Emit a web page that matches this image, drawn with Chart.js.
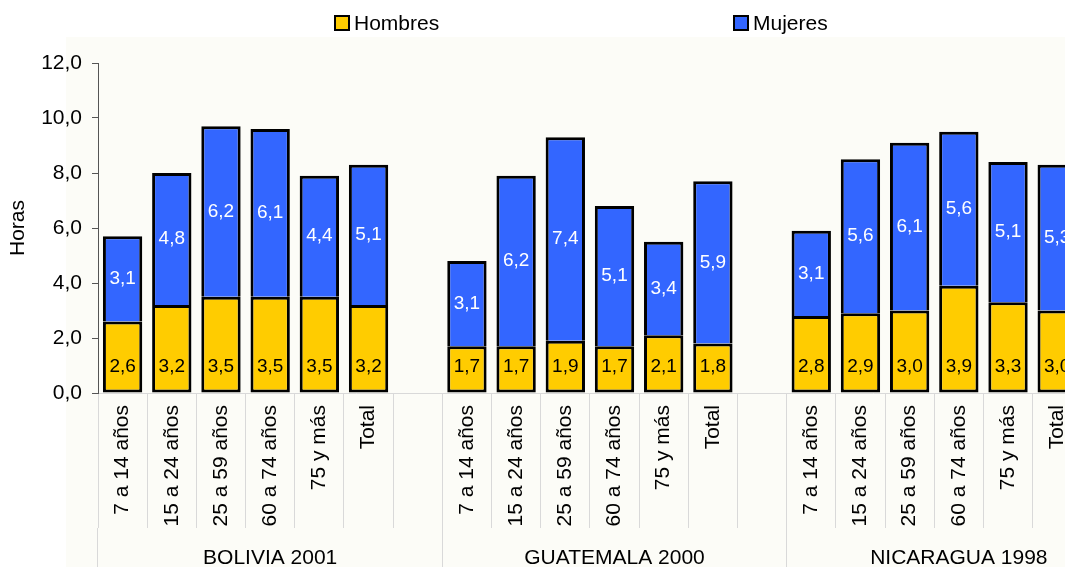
<!DOCTYPE html>
<html>
<head>
<meta charset="utf-8">
<script src="https://cdn.jsdelivr.net/npm/chart.js@4.4.0/dist/chart.umd.min.js"></script>
<style>
  html, body { margin: 0; padding: 0; background: #fff; overflow: hidden; }
  #wrap { position: relative; width: 1134px; height: 567px; }
</style>
</head>
<body>
<div id="wrap"><canvas id="horasChart"></canvas></div>
<script>
// countries (group row) and age groups (one blank slot closes each group)
const countries = ['BOLIVIA 2001', 'GUATEMALA 2000', 'NICARAGUA 1998'];
const ageGroups = ['7 a 14 años', '15 a 24 años', '25 a 59 años', '60 a 74 años', '75 y más', 'Total', ''];

// hours per day, same order as countries x ageGroups
const hombres = [
  2.6, 3.2, 3.5, 3.5, 3.5, 3.2, null,
  1.7, 1.7, 1.9, 1.7, 2.1, 1.8, null,
  2.8, 2.9, 3.0, 3.9, 3.3, 3.0, null
];
const mujeres = [
  3.1, 4.8, 6.2, 6.1, 4.4, 5.1, null,
  3.1, 6.2, 7.4, 5.1, 3.4, 5.9, null,
  3.1, 5.6, 6.1, 5.6, 5.1, 5.3, null
];
const yMin = 0, yMax = 12, yStep = 2;

const categories = countries.flatMap(() => ageGroups);
const fmt = v => v.toFixed(1).replace('.', ',');

Chart.defaults.font.family = "'Liberation Sans', Arial, sans-serif";
Chart.defaults.color = '#000';

// page + plot area background
const bgPlugin = {
  id: 'bg',
  beforeDraw(chart, args, opts) {
    const ctx = chart.ctx;
    ctx.save();
    ctx.fillStyle = '#ffffff';
    ctx.fillRect(0, 0, chart.width, chart.height);
    ctx.fillStyle = opts.color;
    ctx.fillRect(opts.left, opts.top, chart.width - opts.left, chart.height - opts.top);
    ctx.restore();
  }
};

// simple legend boxes at the top
const legendPlugin = {
  id: 'topLegend',
  afterDraw(chart, args, opts) {
    const ctx = chart.ctx;
    ctx.save();
    ctx.font = opts.size + 'px ' + Chart.defaults.font.family;
    ctx.textBaseline = 'middle';
    chart.data.datasets.forEach((ds, i) => {
      const x = opts.xs[i], y = opts.y;
      ctx.fillStyle = '#000';
      ctx.fillRect(x, y, opts.box, opts.box);
      ctx.fillStyle = ds.backgroundColor;
      ctx.fillRect(x + 2, y + 2, opts.box - 4, opts.box - 4);
      ctx.fillStyle = '#000';
      ctx.fillText(ds.label, x + opts.box + 4, y + opts.box / 2 + 1);
    });
    ctx.restore();
  }
};

// value labels inside the bars
const valuePlugin = {
  id: 'values',
  afterDatasetsDraw(chart, args, opts) {
    const ctx = chart.ctx;
    ctx.save();
    ctx.font = opts.size + 'px ' + Chart.defaults.font.family;
    ctx.textAlign = 'center';
    ctx.textBaseline = 'middle';
    chart.data.datasets.forEach((ds, i) => {
      const meta = chart.getDatasetMeta(i);
      meta.data.forEach((bar, j) => {
        const v = ds.data[j];
        if (v == null) return;
        const y = i === 0 ? bar.base - opts.baseOffset : (bar.y + bar.base) / 2;
        ctx.fillStyle = i === 0 ? '#000' : '#fff';
        ctx.fillText(fmt(v), bar.x, y);
      });
    });
    ctx.restore();
  }
};

new Chart(document.getElementById('horasChart'), {
  type: 'bar',
  data: {
    labels: categories,
    datasets: [
      {
        label: 'Hombres',
        data: hombres,
        backgroundColor: '#FFCC00',
        borderColor: '#000',
        borderWidth: 3,
        borderSkipped: false,
        barPercentage: 0.8,
        categoryPercentage: 1
      },
      {
        label: 'Mujeres',
        data: mujeres,
        backgroundColor: '#3366FF',
        borderColor: '#000',
        borderWidth: 3,
        borderSkipped: 'start',
        barPercentage: 0.8,
        categoryPercentage: 1
      }
    ]
  },
  options: {
    responsive: true,
    maintainAspectRatio: false,
    animation: false,
    layout: { padding: { top: 63, right: 3, left: 0, bottom: 0 } },
    scales: {
      x: {
        stacked: true,
        offset: true,
        weight: 0,
        grid: {
          offset: true,
          drawOnChartArea: false,
          tickLength: 135,
          color: '#d9d9d9'
        },
        border: { color: '#d9d9d9' },
        ticks: {
          autoSkip: false,
          minRotation: 90,
          maxRotation: 90,
          padding: -123,
          font: { size: 21 }
        },
        afterFit(scale) { scale.height = 135; }
      },
      x2: {
        type: 'category',
        labels: countries,
        position: 'bottom',
        offset: true,
        weight: 1,
        grid: {
          offset: true,
          drawOnChartArea: false,
          tickLength: 39,
          color: '#d9d9d9'
        },
        border: { display: false },
        ticks: { padding: -21, font: { size: 21 } },
        afterFit(scale) { scale.height = 39; }
      },
      y: {
        stacked: true,
        min: yMin,
        max: yMax,
        grid: {
          drawOnChartArea: false,
          tickLength: 6,
          color: '#555'
        },
        border: { color: '#555' },
        ticks: {
          stepSize: yStep,
          padding: 10,
          font: { size: 21 },
          callback: v => fmt(v)
        },
        title: {
          display: true,
          text: 'Horas',
          font: { size: 21 },
          padding: { top: 6, bottom: 0 }
        },
        afterFit(scale) { scale.width = 98; }
      }
    },
    plugins: {
      legend: { display: false },
      tooltip: { enabled: false },
      bg: { color: '#fcfcf7', left: 66, top: 37 },
      topLegend: { xs: [334, 733], y: 15, box: 16, size: 21 },
      values: { size: 19, baseOffset: 26 }
    }
  },
  plugins: [bgPlugin, legendPlugin, valuePlugin]
});
</script>
</body>
</html>
